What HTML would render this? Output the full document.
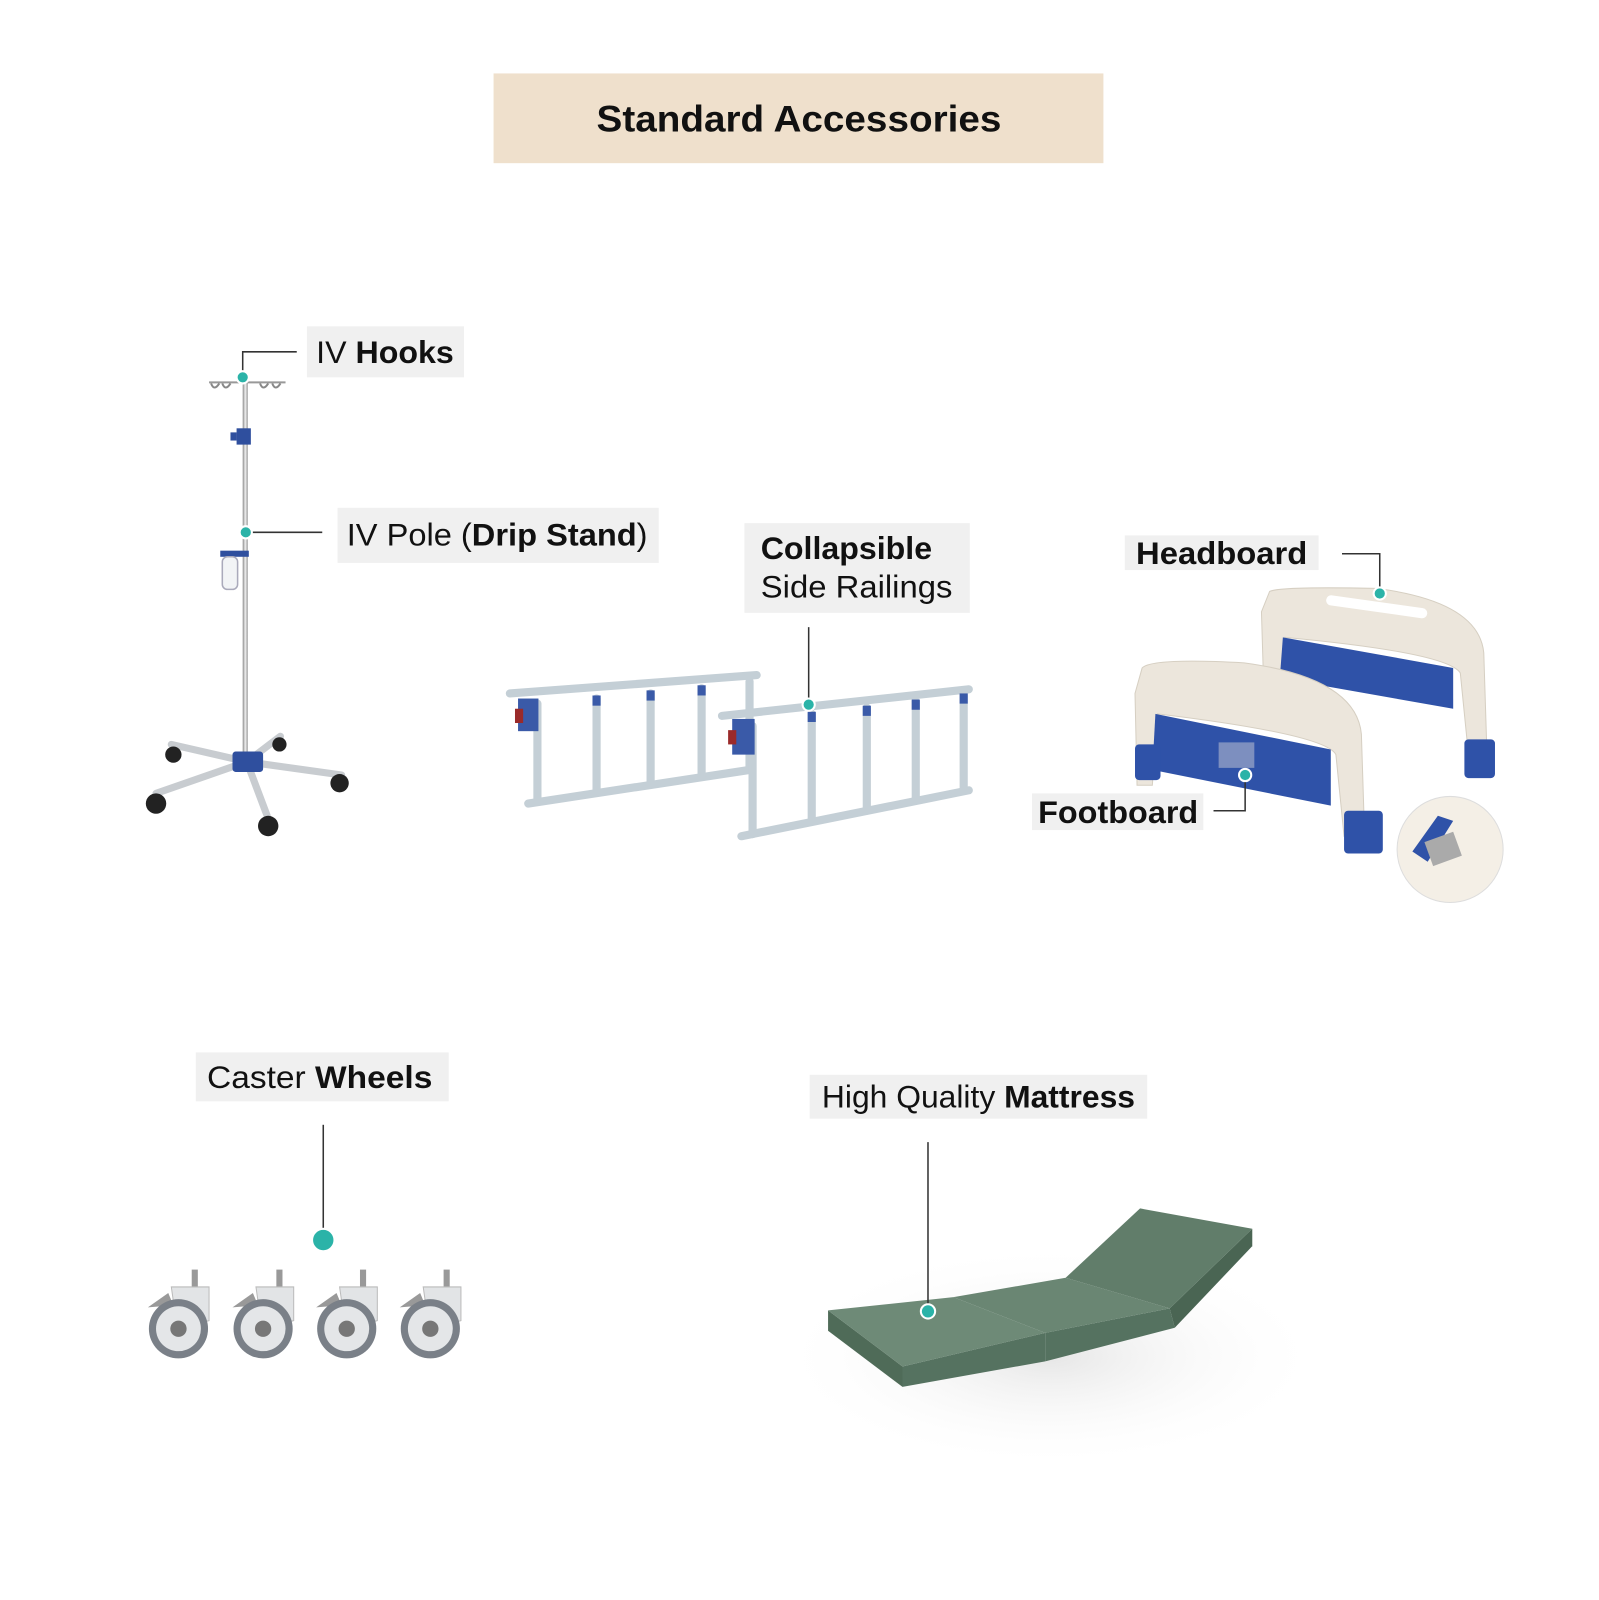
<!DOCTYPE html>
<html><head><meta charset="utf-8"><style>
html,body{margin:0;padding:0;background:#fff}
svg{display:block}
text{font-family:"Liberation Sans",sans-serif;fill:#111}
</style></head><body>
<svg width="1599" height="1600" viewBox="0 0 1568 1569" preserveAspectRatio="none" xmlns="http://www.w3.org/2000/svg">
<defs>
<linearGradient id="pole" x1="0" x2="1"><stop offset="0" stop-color="#888"/><stop offset=".5" stop-color="#eee"/><stop offset="1" stop-color="#999"/></linearGradient>
<radialGradient id="shadow" cx=".5" cy=".5" r=".5"><stop offset="0" stop-color="#e6e6e6"/><stop offset="1" stop-color="#fff" stop-opacity="0"/></radialGradient>
</defs>
<rect x="484" y="72" width="598" height="88" fill="#efe0cc"/>
<text x="585" y="129" font-size="36" font-weight="bold" textLength="397" lengthAdjust="spacingAndGlyphs">Standard Accessories</text>

<rect x="238" y="372" width="5" height="375" fill="url(#pole)"/>
<path d="M205 375 H280" stroke="#999" stroke-width="2"/>
<g fill="none" stroke="#888" stroke-width="2">
<path d="M207 376 q3 8 8 0"/><path d="M218 376 q3 8 8 0"/><path d="M255 376 q3 8 8 0"/><path d="M267 376 q3 8 8 0"/></g>
<rect x="232" y="420" width="14" height="16" fill="#2f4f9e"/><rect x="226" y="424" width="6" height="8" fill="#2f4f9e"/>
<rect x="216" y="540" width="28" height="6" fill="#2f4f9e"/>
<rect x="218" y="546" width="15" height="32" rx="5" fill="#f2f4f6" stroke="#aab" stroke-width="1.5"/>
<g stroke="#c8ccd0" stroke-width="7" stroke-linecap="round">
<line x1="242" y1="747" x2="168" y2="730"/><line x1="242" y1="747" x2="153" y2="778"/>
<line x1="242" y1="747" x2="262" y2="800"/><line x1="242" y1="747" x2="335" y2="760"/>
<line x1="242" y1="747" x2="275" y2="722"/></g>
<rect x="228" y="737" width="30" height="20" rx="3" fill="#2f4f9e"/>
<g fill="#222"><circle cx="170" cy="740" r="8"/><circle cx="153" cy="788" r="10"/><circle cx="263" cy="810" r="10"/><circle cx="333" cy="768" r="9"/><circle cx="274" cy="730" r="7"/></g>

<rect x="301" y="320" width="154" height="50" fill="#f0f0f0"/>
<text x="310" y="356" font-size="31" textLength="135" lengthAdjust="spacingAndGlyphs">IV <tspan font-weight="bold">Hooks</tspan></text>
<path d="M238 370 V345 H291" stroke="#333" stroke-width="1.5" fill="none"/>
<circle cx="238" cy="370" r="6" fill="#2bb3a8" stroke="#fff" stroke-width="2"/>
<rect x="331" y="498" width="315" height="54" fill="#f0f0f0"/>
<text x="340" y="535" font-size="31" textLength="295" lengthAdjust="spacingAndGlyphs">IV Pole (<tspan font-weight="bold">Drip Stand</tspan>)</text>
<path d="M241 522 H316" stroke="#333" stroke-width="1.5"/>
<circle cx="241" cy="522" r="6" fill="#2bb3a8" stroke="#fff" stroke-width="2"/>

<g stroke="#c4cfd6" stroke-width="8" stroke-linecap="round">
<line x1="500" y1="680" x2="742" y2="662"/><line x1="518" y1="788" x2="735" y2="755"/>
<line x1="527" y1="690" x2="527" y2="785"/><line x1="585" y1="685" x2="585" y2="775"/><line x1="638" y1="680" x2="638" y2="768"/><line x1="688" y1="675" x2="688" y2="760"/><line x1="735" y1="668" x2="735" y2="755"/>
<line x1="708" y1="702" x2="950" y2="676"/><line x1="727" y1="820" x2="950" y2="775"/>
<line x1="738" y1="712" x2="738" y2="818"/><line x1="796" y1="700" x2="796" y2="805"/><line x1="850" y1="694" x2="850" y2="795"/><line x1="898" y1="688" x2="898" y2="785"/><line x1="945" y1="682" x2="945" y2="775"/></g>
<g fill="#3a5aa8"><rect x="508" y="685" width="20" height="32"/><rect x="718" y="705" width="22" height="35"/>
<rect x="581" y="682" width="8" height="10"/><rect x="634" y="677" width="8" height="10"/><rect x="684" y="672" width="8" height="10"/><rect x="792" y="698" width="8" height="10"/><rect x="846" y="692" width="8" height="10"/><rect x="894" y="686" width="8" height="10"/><rect x="941" y="680" width="8" height="10"/></g>
<rect x="505" y="695" width="8" height="14" fill="#9a2a2a"/><rect x="714" y="716" width="8" height="14" fill="#9a2a2a"/>
<rect x="730" y="513" width="221" height="88" fill="#f0f0f0"/>
<text x="746" y="548" font-size="31" font-weight="bold" textLength="168" lengthAdjust="spacingAndGlyphs">Collapsible</text>
<text x="746" y="586" font-size="31" textLength="188" lengthAdjust="spacingAndGlyphs">Side Railings</text>
<path d="M793 615 V691" stroke="#333" stroke-width="1.5"/>
<circle cx="793" cy="691" r="6" fill="#2bb3a8" stroke="#fff" stroke-width="2"/>

<path d="M1245 580 Q1255 575 1350 577 Q1450 590 1455 640 L1458 735 L1440 740 L1432 660 Q1420 640 1260 625 L1255 700 L1240 700 L1237 600 Z" fill="#ece6dc" stroke="#d6cfc2"/>
<path d="M1258 625 L1425 655 L1425 695 L1255 665 Z" fill="#2f52a8"/>
<rect x="1300" y="590" width="100" height="10" rx="5" fill="#fff" transform="rotate(8 1350 595)"/>
<rect x="1436" y="725" width="30" height="38" rx="4" fill="#2f52a8"/>
<path d="M1120 655 Q1130 645 1220 650 Q1330 665 1335 720 L1338 815 L1318 820 L1310 740 Q1300 720 1135 700 L1130 770 L1115 770 L1113 680 Z" fill="#ece6dc" stroke="#d6cfc2"/>
<path d="M1133 700 L1305 735 L1305 790 L1130 755 Z" fill="#2f52a8"/>
<rect x="1195" y="728" width="35" height="25" fill="#7d8fbf"/>
<rect x="1113" y="730" width="25" height="35" rx="4" fill="#2f52a8"/>
<rect x="1318" y="795" width="38" height="42" rx="4" fill="#2f52a8"/>
<circle cx="1422" cy="833" r="52" fill="#f4efe6" stroke="#ddd"/>
<path d="M1385 835 L1410 800 L1425 805 L1400 845 Z" fill="#2f52a8"/>
<rect x="1400" y="820" width="30" height="25" fill="#aaa" transform="rotate(-20 1415 832)"/>
<rect x="1103" y="525" width="190" height="34" fill="#f0f0f0"/>
<text x="1114" y="553" font-size="31" font-weight="bold" textLength="168" lengthAdjust="spacingAndGlyphs">Headboard</text>
<path d="M1316 543 H1353 V582" stroke="#333" stroke-width="1.5" fill="none"/>
<circle cx="1353" cy="582" r="6" fill="#2bb3a8" stroke="#fff" stroke-width="2"/>
<rect x="1012" y="778" width="168" height="36" fill="#f0f0f0"/>
<text x="1018" y="807" font-size="31" font-weight="bold" textLength="157" lengthAdjust="spacingAndGlyphs">Footboard</text>
<path d="M1190 795 H1221 V760" stroke="#333" stroke-width="1.5" fill="none"/>
<circle cx="1221" cy="760" r="6" fill="#2bb3a8" stroke="#fff" stroke-width="2"/>

<rect x="192" y="1032" width="248" height="48" fill="#f0f0f0"/>
<text x="203" y="1067" font-size="31" textLength="221" lengthAdjust="spacingAndGlyphs">Caster <tspan font-weight="bold">Wheels</tspan></text>
<path d="M317 1103 V1205" stroke="#333" stroke-width="1.5"/>
<circle cx="317" cy="1216" r="11" fill="#2bb3a8" stroke="#fff" stroke-width="2"/>
<g id="w">
<rect x="188" y="1245" width="6" height="18" fill="#999"/>
<path d="M168 1262 H205 V1295 Q190 1300 172 1290 Z" fill="#e2e4e6" stroke="#bbb"/>
<path d="M145 1282 L165 1268 L170 1280 Z" fill="#999"/>
<circle cx="175" cy="1303" r="29" fill="#7a8088"/>
<circle cx="175" cy="1303" r="22" fill="#e4e6e8"/>
<circle cx="175" cy="1303" r="8" fill="#777"/>
</g>
<use href="#w" x="83"/><use href="#w" x="165"/><use href="#w" x="247"/>

<ellipse cx="1030" cy="1330" rx="270" ry="110" fill="url(#shadow)"/>
<rect x="794" y="1054" width="331" height="43" fill="#f0f0f0"/>
<text x="806" y="1086" font-size="31" textLength="307" lengthAdjust="spacingAndGlyphs">High Quality <tspan font-weight="bold">Mattress</tspan></text>
<polygon points="812,1285 885,1340 885,1360 812,1305" fill="#4f6b58"/>
<polygon points="885,1340 1025,1307 1025,1335 885,1360" fill="#557260"/>
<polygon points="1025,1307 1147,1283 1152,1302 1025,1335" fill="#557260"/>
<polygon points="1147,1283 1228,1205 1228,1222 1152,1302" fill="#4a6553"/>
<polygon points="812,1285 935,1272 1025,1307 885,1340" fill="#6e8a77"/>
<polygon points="935,1272 1045,1253 1147,1283 1025,1307" fill="#6a8673"/>
<polygon points="1045,1253 1118,1185 1228,1205 1147,1283" fill="#617d6a"/>
<path d="M910 1120 V1286" stroke="#333" stroke-width="1.5"/>
<circle cx="910" cy="1286" r="7" fill="#2bb3a8" stroke="#fff" stroke-width="2"/>
</svg>
</body></html>
